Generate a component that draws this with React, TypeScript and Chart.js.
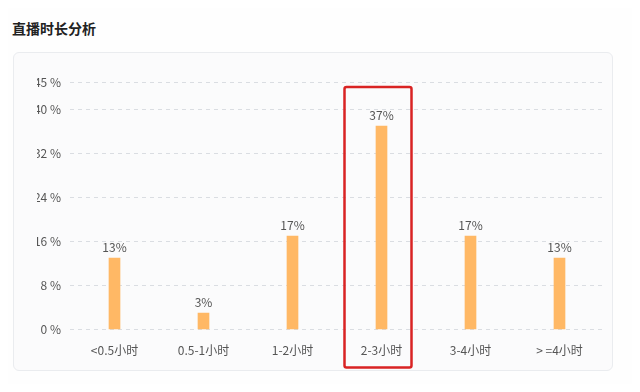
import React, { useEffect, useRef } from "react";
import { Chart, registerables } from "chart.js";

Chart.register(...registerables);

const categories = ["<0.5小时", "0.5-1小时", "1-2小时", "2-3小时", "3-4小时", "> =4小时"];
const shares = [13, 3, 17, 37, 17, 13];
const yTicks = [0, 8, 16, 24, 32, 40, 45];
const highlightIndex = 3;

const FONT = '"Noto Sans CJK SC", "Noto Sans", sans-serif';

// Percentage text above each bar
const valueLabels = {
  id: "valueLabels",
  afterDatasetsDraw(chart: any) {
    const { ctx } = chart;
    const meta = chart.getDatasetMeta(0);
    ctx.save();
    ctx.font = `12px ${FONT}`;
    ctx.fillStyle = "#555";
    ctx.textAlign = "center";
    ctx.textBaseline = "bottom";
    meta.data.forEach((bar: any, i: number) => {
      ctx.fillText(`${shares[i]}%`, bar.x, bar.y - 5);
    });
    ctx.restore();
  },
};

// Red frame around the emphasised category
const highlightBox = {
  id: "highlightBox",
  afterDraw(chart: any) {
    const { ctx, chartArea } = chart;
    const cx = chart.scales.x.getPixelForValue(highlightIndex);
    const left = cx - 37;
    const right = cx + 30;
    const top = chartArea.top + 5;
    const bottom = chartArea.bottom + 38;
    ctx.save();
    ctx.strokeStyle = "#d92323";
    ctx.lineWidth = 2.5;
    ctx.beginPath();
    if (ctx.roundRect) ctx.roundRect(left, top, right - left, bottom - top, 2);
    else ctx.rect(left, top, right - left, bottom - top);
    ctx.stroke();
    ctx.restore();
  },
};

function DurationChart() {
  const ref = useRef<HTMLCanvasElement | null>(null);
  useEffect(() => {
    if (!ref.current) return;
    const chart = new Chart(ref.current, {
      type: "bar",
      data: {
        labels: categories,
        datasets: [
          {
            data: shares,
            backgroundColor: "#ffb865",
            barThickness: 11,
            borderWidth: 0,
          },
        ],
      },
      options: {
        animation: false,
        responsive: false,
        maintainAspectRatio: false,
        layout: { padding: { top: 22, right: 8, bottom: 6, left: 0 } },
        plugins: { legend: { display: false }, tooltip: { enabled: false } },
        scales: {
          x: {
            grid: { display: false, drawTicks: false },
            border: { display: false },
            ticks: {
              color: "#555",
              font: { size: 12, family: FONT },
              padding: 14,
            },
          },
          y: {
            min: 0,
            max: 45,
            afterBuildTicks: (axis: any) => {
              axis.ticks = yTicks.map((v) => ({ value: v }));
            },
            afterFit: (axis: any) => {
              axis.width = 33;
            },
            grid: { color: "#dadde2", drawTicks: false, lineWidth: 1 },
            border: { display: false, dash: [4, 4] },
            ticks: {
              color: "#555",
              font: { size: 12, family: FONT },
              padding: 9,
              callback: (v: any) => `${v} %`,
            },
          },
        },
      },
      plugins: [valueLabels, highlightBox],
    });
    return () => chart.destroy();
  }, []);
  return <canvas ref={ref} width={575} height={318} style={{ display: "block" }} />;
}

export default function App() {
  return (
    <div
      style={{
        position: "relative",
        width: 640,
        height: 392,
        background: "#fefefe",
        margin: -8,
        overflow: "hidden",
        fontFamily: FONT,
      }}
    >
      <div
        style={{
          position: "absolute",
          left: 12,
          top: 18,
          fontSize: 14,
          fontWeight: 700,
          color: "#222",
        }}
      >
        直播时长分析
      </div>
      <div
        style={{
          position: "absolute",
          left: 13,
          top: 52,
          width: 598,
          height: 317,
          border: "1px solid #eaecef",
          borderRadius: 6,
          background: "#fbfbfc",
        }}
      />
      <div style={{ position: "absolute", left: 37, top: 60 }}>
        <DurationChart />
      </div>
    </div>
  );
}
